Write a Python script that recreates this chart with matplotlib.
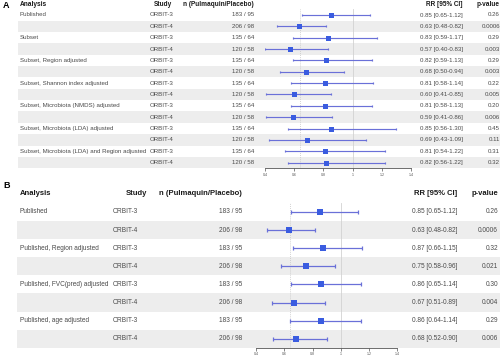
import matplotlib
matplotlib.use("Agg")
import matplotlib.pyplot as plt
import numpy as np

plt.rcParams["font.family"] = ["Liberation Sans", "DejaVu Sans"]

W, H = 500, 357

# ---- panel A data ----
a_analysis = ["Published", "", "Subset", "", "Subset, Region adjusted", "",
              "Subset, Shannon index adjusted", "",
              "Subset, Microbiota (NMDS) adjusted", "",
              "Subset, Microbiota (LDA) adjusted", "",
              "Subset, Microbiota (LDA) and Region adjusted", ""]
a_study = ["ORBIT-3", "ORBIT-4"] * 7
a_n = ["183 / 95", "206 / 98"] + ["135 / 64", "120 / 58"] * 6
a_rr = [0.85, 0.63, 0.83, 0.57, 0.82, 0.68, 0.81, 0.60, 0.81, 0.59, 0.85, 0.69, 0.81, 0.82]
a_lo = [0.65, 0.48, 0.59, 0.40, 0.59, 0.50, 0.58, 0.41, 0.58, 0.41, 0.56, 0.43, 0.54, 0.56]
a_hi = [1.12, 0.82, 1.17, 0.83, 1.13, 0.94, 1.14, 0.85, 1.13, 0.86, 1.30, 1.09, 1.22, 1.22]
a_p = ["0.26", "0.0006", "0.29", "0.003", "0.29", "0.003", "0.22", "0.005",
       "0.20", "0.006", "0.45", "0.11", "0.31", "0.32"]

# ---- panel B data ----
b_analysis = ["Published", "", "Published, Region adjusted", "",
              "Published, FVC(pred) adjusted", "", "Published, age adjusted", ""]
b_study = ["ORBIT-3", "ORBIT-4"] * 4
b_n = ["183 / 95", "206 / 98"] * 4
b_rr = [0.85, 0.63, 0.87, 0.75, 0.86, 0.67, 0.86, 0.68]
b_lo = [0.65, 0.48, 0.66, 0.58, 0.65, 0.51, 0.64, 0.52]
b_hi = [1.12, 0.82, 1.15, 0.96, 1.14, 0.89, 1.14, 0.90]
b_p = ["0.26", "0.0006", "0.32", "0.021", "0.30", "0.004", "0.29", "0.006"]

ticks = [0.4, 0.6, 0.8, 1.0, 1.2, 1.4]
tick_labels = ["0.4", "0.6", "0.8", "1", "1.2", "1.4"]

ROW_TXT = "#4a4a4a"
HEAD_TXT = "#1a1a1a"
SHADE = "#ededed"
SQ = "#3a5ce0"
CI = "#6a70d8"


def draw_panel(fig, letter, analysis, study, n, rr, lo, hi, pval, g):
    nrow = len(rr)
    top = g["row0"] - g["step"] / 2
    bot = g["row0"] + g["step"] * (nrow - 0.5)
    bottom = (H - bot) / H
    height = (bot - top) / H

    tab = fig.add_axes([0, bottom, 1, height])
    tab.set_xlim(0, W)
    tab.set_ylim(nrow - 0.5, -0.5)
    tab.axis("off")
    rows = np.arange(nrow)
    for i in rows[1::2]:
        tab.axhspan(i - 0.5, i + 0.5, xmin=g["shade"][0] / W, xmax=g["shade"][1] / W,
                    color=SHADE, lw=0, zorder=0)

    hy = (g["head_y"] - g["row0"]) / g["step"]
    fs, hfs = g["fs"], g["hfs"]
    kw = dict(va="center", color=ROW_TXT, fontsize=fs, clip_on=False)
    hkw = dict(va="center", color=HEAD_TXT, fontsize=hfs, fontweight="bold", clip_on=False)

    tab.text(g["letter_x"], (g["letter_y"] - g["row0"]) / g["step"], letter,
             fontsize=g["lfs"], fontweight="bold", va="center", color="black")
    tab.text(g["c_an"], hy, "Analysis", ha="left", **hkw)
    tab.text(g["c_study_h"], hy, "Study", ha="right", **hkw)
    tab.text(g["c_n"], hy, "n (Pulmaquin/Placebo)", ha="right", **hkw)
    tab.text(g["c_rr"], hy, "RR [95% CI]", ha="right", **hkw)
    tab.text(g["c_p"], hy, "p-value", ha="right", **hkw)

    for i in rows:
        tab.text(g["c_an"], i, analysis[i], ha="left", **kw)
        tab.text(g["c_study"], i, study[i], ha="left", **kw)
        tab.text(g["c_n"], i, n[i], ha="right", **kw)
        tab.text(g["c_rr"], i, f"{rr[i]:.2f} [{lo[i]:.2f}-{hi[i]:.2f}]", ha="right", **kw)
        tab.text(g["c_p"], i, pval[i], ha="right", **kw)

    fx0, fx1 = g["fx"]
    ax = fig.add_axes([fx0 / W, bottom, (fx1 - fx0) / W, height])
    ax.set_facecolor("none")
    ax.set_xlim(0.4, 1.4)
    ax.set_ylim(nrow - 0.5, -0.5)
    ax.axvline(1.0, color="#d2d2d2", lw=0.6, zorder=1)
    ax.axvline(0.64, color="#c4c4c4", lw=0.6, ls=(0, (1, 1.5)), zorder=1)
    rr_a = np.array(rr)
    ax.errorbar(rr_a, rows, xerr=[rr_a - np.array(lo), np.array(hi) - rr_a],
                fmt="none", ecolor=CI, elinewidth=g["lw"], capsize=g["cap"],
                capthick=g["lw"], zorder=2)
    ax.plot(rr_a, rows, "s", color=SQ, ms=g["ms"], mew=0, zorder=3)

    for s in ["top", "right", "left"]:
        ax.spines[s].set_visible(False)
    ax.spines["bottom"].set_color("#555555")
    ax.spines["bottom"].set_linewidth(0.6)
    ax.set_yticks([])
    ax.set_xticks(ticks)
    ax.set_xticklabels(tick_labels)
    ax.tick_params(axis="x", length=1.8, width=0.5, color="#555555",
                   labelsize=g["tfs"], labelcolor="#555555", pad=1.5)


fig = plt.figure(figsize=(W / 100, H / 100), dpi=100)

geo_a = dict(row0=15.0, step=11.35, head_y=5.0, shade=(18, 500), fx=(265, 411),
             c_an=20, c_study=150, c_study_h=172, c_n=254, c_rr=463, c_p=500,
             letter_x=3, letter_y=5, lfs=6.5, fs=4.4, hfs=4.7, tfs=2.6,
             ms=3.6, lw=0.85, cap=0.8)
geo_b = dict(row0=212.0, step=18.1, head_y=194.0, shade=(17, 500), fx=(256, 397.5),
             c_an=20, c_study=113, c_study_h=147, c_n=242, c_rr=457, c_p=498,
             letter_x=3, letter_y=186, lfs=6.5, fs=4.7, hfs=5.5, tfs=2.6,
             ms=4.8, lw=0.9, cap=1.2)

draw_panel(fig, "A", a_analysis, a_study, a_n, a_rr, a_lo, a_hi, a_p, geo_a)
draw_panel(fig, "B", b_analysis, b_study, b_n, b_rr, b_lo, b_hi, b_p, geo_b)

fig.savefig("out.png", dpi=100)
